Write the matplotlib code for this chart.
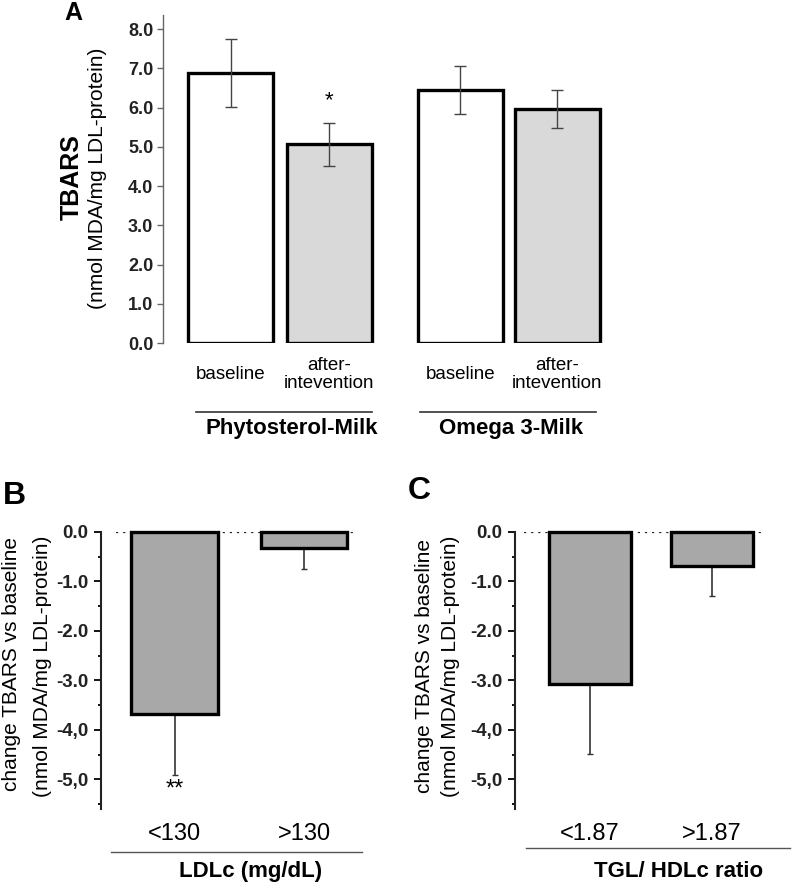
import matplotlib
matplotlib.use('Agg')
import matplotlib.pyplot as plt
import numpy as np

plt.rcParams['font.family'] = ['Liberation Sans', 'DejaVu Sans']

# panel A: TBARS by milk and period
a_labels = ['baseline', 'after-\nintevention', 'baseline', 'after-\nintevention']
a_pos = [0, 1, 2.32, 3.3]
a_vals = [6.88, 5.06, 6.45, 5.97]
a_err = [0.86, 0.54, 0.61, 0.48]
a_colors = ['white', '#d9d9d9', 'white', '#d9d9d9']
a_groups = ['Phytosterol-Milk', 'Omega 3-Milk']

# panel B: change by LDLc
b_labels = ['<130', '>130']
b_vals = [-3.68, -0.32]
b_err = [1.24, 0.43]

# panel C: change by TGL/HDLc ratio
c_labels = ['<1.87', '>1.87']
c_vals = [-3.08, -0.68]
c_err = [1.40, 0.61]

change_ticks = [0, -1, -2, -3, -4, -5]
change_ticklabels = ['0.0', '-1.0', '-2.0', '-3.0', '-4,0', '-5,0']

W, H = 793, 888
fig = plt.figure(figsize=(W / 100, H / 100), dpi=100)


def px_axes(x0, y0, x1, y1):
    return fig.add_axes([x0 / W, 1 - y1 / H, (x1 - x0) / W, (y1 - y0) / H])


def px_text(x, y, s, **kw):
    kw.setdefault('ha', 'center')
    kw.setdefault('va', 'center')
    return fig.text(x / W, 1 - y / H, s, **kw)


# ---------------- A ----------------
ax = px_axes(163, 15, 620, 343)
ax.bar(a_pos, a_vals, width=0.86, color=a_colors, edgecolor='black', linewidth=2.4, zorder=2)
ax.errorbar(a_pos, a_vals, yerr=a_err, fmt='none', ecolor='#444444', elinewidth=1,
            capsize=4.5, capthick=1, zorder=3)
ax.set_xlim(-0.682, 3.935)
ax.set_ylim(0, 8.36)
ax.set_yticks(np.arange(0, 9, 1))
ax.set_yticklabels(['%.1f' % v for v in range(9)], fontsize=13, fontweight='bold', color='#222222')
ax.set_xticks([])
for s in ['top', 'right', 'bottom']:
    ax.spines[s].set_visible(False)
ax.spines['left'].set_color('#666666')
ax.spines['left'].set_linewidth(1)
ax.tick_params(axis='y', length=4, width=1, color='#666666', pad=3)
ax.text(a_pos[1], a_vals[1] + a_err[1] + 0.3, '*', ha='center', va='bottom', fontsize=16)
trans = ax.get_xaxis_transform()
for x, lab in zip(a_pos, a_labels):
    ax.text(x, -0.097, lab, transform=trans, ha='center', va='center', fontsize=13.5,
            linespacing=1.05)
for (x0, x1), xc, g in zip([(-0.348, 1.429), (1.914, 3.692)], [0.621, 2.833], a_groups):
    ax.plot([x0, x1], [-0.21, -0.21], transform=trans, color='#333333', lw=1.2, clip_on=False)
    ax.text(xc, -0.26, g, transform=trans, ha='center', va='center', fontsize=16,
            fontweight='bold')
px_text(72, 177, 'TBARS', rotation=90, fontsize=18, fontweight='bold')
px_text(98, 178, '(nmol MDA/mg LDL-protein)', rotation=90, fontsize=15)
px_text(73, 13, 'A', fontsize=18, fontweight='bold')


def change_panel(box, xlim, vals, err, labels, dot, line, title, title_x, letter_xy, letter):
    ax = px_axes(*box)
    pos = np.arange(len(vals))
    ax.bar(pos, vals, width=0.67, color='#a8a8a8', edgecolor='black', linewidth=2.4,
           zorder=2, clip_on=False)
    ax.errorbar(pos, vals, yerr=[err, [0] * len(err)], fmt='none', ecolor='#333333',
                elinewidth=1.2, capsize=2, capthick=1, zorder=1)
    ax.axhline(0, xmin=dot[0], xmax=dot[1], color='#222222', lw=1.6, ls=(0, (1, 2.2)), zorder=1)
    ax.set_xlim(*xlim)
    ax.set_ylim(-5.6, 0)
    ax.set_yticks(change_ticks)
    ax.set_yticklabels(change_ticklabels, fontsize=13.5, fontweight='bold', color='#222222')
    ax.set_yticks(np.arange(-5.5, 0, 1), minor=True)
    ax.tick_params(axis='y', which='major', length=5, width=1.3, pad=4)
    ax.tick_params(axis='y', which='minor', length=2.5, width=1.3)
    ax.set_xticks(pos)
    ax.set_xticklabels(labels, fontsize=17)
    ax.tick_params(axis='x', length=0, pad=10)
    for s in ['top', 'right', 'bottom']:
        ax.spines[s].set_visible(False)
    ax.spines['left'].set_linewidth(1.5)
    ax.spines['left'].set_color('#222222')
    ax.plot(line[:2], [line[2], line[2]], transform=ax.transAxes, color='#555555', lw=1,
            clip_on=False)
    ax.text(title_x, -0.227, title, transform=ax.transAxes, ha='center', va='center',
            fontsize=16, fontweight='bold')
    px_text(*letter_xy, letter, fontsize=23, fontweight='bold')
    return ax


axb = change_panel((101, 532, 365, 809), (-0.568, 1.471), b_vals, b_err, b_labels,
                   (0.057, 0.955), (0.038, 0.989, -0.155), 'LDLc (mg/dL)', 0.568, (14, 496), 'B')
axb.text(0, b_vals[0] - b_err[0] - 0.06, '**', ha='center', va='top', fontsize=17)
px_text(12, 664, 'change TBARS vs baseline', rotation=90, fontsize=15)
px_text(43, 666, '(nmol MDA/mg LDL-protein)', rotation=90, fontsize=15)

axc = change_panel((515, 532, 790, 809), (-0.615, 1.64), c_vals, c_err, c_labels,
                   (0.033, 0.898), (0.04, 1.0, -0.141), 'TGL/ HDLc ratio', 0.593, (419, 491), 'C')
px_text(424, 666, 'change TBARS vs baseline', rotation=90, fontsize=15)
px_text(450, 666, '(nmol MDA/mg LDL-protein)', rotation=90, fontsize=15)

fig.savefig('out.png', dpi=100)
